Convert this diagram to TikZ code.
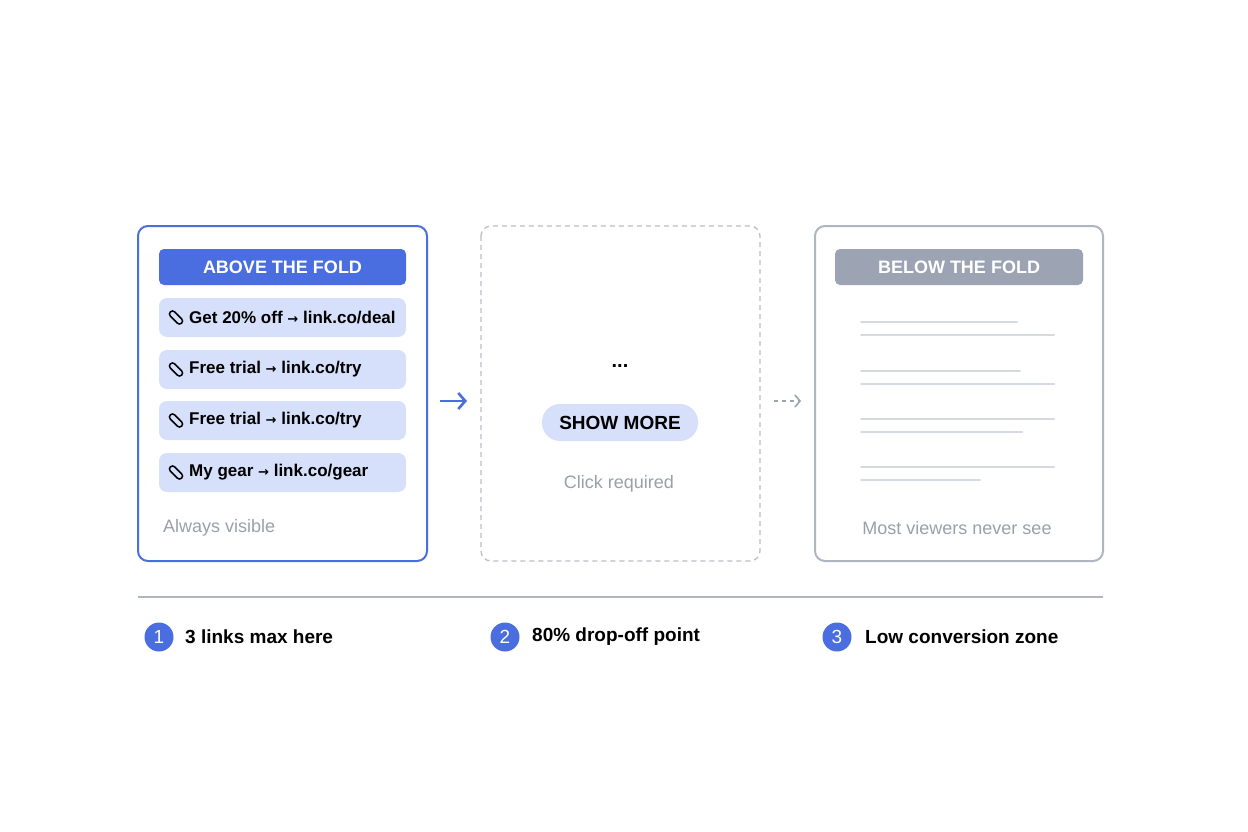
\documentclass[tikz,border=0pt]{standalone}
\usepackage{fontspec}
\setmainfont{Liberation Sans}
\newfontfamily\arrowfont{DejaVu Sans}
\usepackage{xcolor}
\usetikzlibrary{arrows.meta}
\usetikzlibrary{calc}
\definecolor{foldblue}{HTML}{4A6EE0}
\definecolor{pillblue}{HTML}{D6E0FA}
\definecolor{foldgray}{HTML}{9CA3B3}
\definecolor{linegray}{HTML}{D5D9E0}
\definecolor{textgray}{HTML}{9AA0AA}
\tikzset{
    panel/.style = {rounded corners=10pt, line width=2pt},
    header/.style = {rounded corners=5pt, text=white, font=\bfseries\fontsize{18}{20}\selectfont},
    pill/.style = {rounded corners=8pt, fill=pillblue},
    pilltext/.style = {anchor=west, font=\bfseries\fontsize{17}{19}\selectfont, inner sep=0pt},
    note/.style = {text=textgray, font=\fontsize{18}{20}\selectfont, inner sep=0pt},
    badge/.style = {circle, fill=foldblue, text=white, minimum size=29pt, inner sep=0pt, font=\fontsize{19}{21}\selectfont},
    steptext/.style = {anchor=west, inner sep=0pt, font=\bfseries\fontsize{19}{21}\selectfont},
    fakeline/.style = {linegray, line width=2pt, line cap=round}
}
\newcommand{\clipicon}[1]{%
    \draw[line width=1.5pt, rotate around={-45:#1}, rounded corners=3pt]
        ($#1+(-8pt,-3pt)$) rectangle ($#1+(8pt,3pt)$);}
\newcommand{\ra}{{\arrowfont\bfseries\fontsize{13}{15}\selectfont\char"2192}}
\begin{document}
\begin{tikzpicture}[x=1pt, y=-1pt]
    \useasboundingbox (0,0) rectangle (1248,832);
    \fill[white] (0,0) rectangle (1248,832);

    % left panel
    \draw[panel, foldblue] (138,226) rectangle (427,561);
    \fill[header, foldblue] (159,249) rectangle (406,285);
    \node[header] (above) at (282.5,267) {ABOVE THE FOLD};
    \foreach \y/\txt [count=\i] in {298/{Get 20\% off \ra{} link.co/deal},
                                    350/{Free trial \ra{} link.co/try},
                                    401/{Free trial \ra{} link.co/try},
                                    453/{My gear \ra{} link.co/gear}} {
        \fill[pill] (159,\y) rectangle (406,\y+39);
        \clipicon{(176,\y+19.5)}
        \node[pilltext] (link\i) at (189,\y+19.5) {\txt};
    }
    \node[note, anchor=west] (visible) at (163,528) {Always visible};

    % middle panel
    \draw[foldgray!70, line width=1.3pt, dash pattern=on 5pt off 4pt, rounded corners=10pt]
        (481,226) rectangle (760,561);
    \node[font=\bfseries\fontsize{20}{22}\selectfont] (dots) at (620,366) {...};
    \node[pill, fill=pillblue, rounded corners=18pt, minimum width=156pt, minimum height=37pt,
          font=\bfseries\fontsize{19}{21}\selectfont] (more) at (620,422.5) {SHOW MORE};
    \node[note] (click) at (619,484) {Click required};

    % right panel
    \draw[panel, foldgray!80] (815,226) rectangle (1103,561);
    \fill[header, foldgray] (835,249) rectangle (1083,285);
    \node[header] (below) at (959,267) {BELOW THE FOLD};
    \foreach \y/\a/\b in {322/1017/1054, 371/1020/1054, 419/1054/1022, 467/1054/980} {
        \draw[fakeline] (861,\y) -- (\a,\y);
        \draw[fakeline] (861,\y+12.5) -- (\b,\y+12.5);
    }
    \node[note] (never) at (957,528) {Most viewers never see};

    % arrows between panels
    \coordinate (a1) at (440,401);
    \coordinate (a2) at (467,401);
    \coordinate (b1) at (774,401);
    \coordinate (b2) at (801,401);
    \draw[foldblue, line width=2.6pt, -{Straight Barb[length=7pt,width=16pt]}] (a1) -- (a2);
    \draw[foldgray, line width=1.6pt, dash pattern=on 4pt off 4pt,
          -{Straight Barb[length=5pt,width=12pt]}] (b1) -- (b2);

    % bottom row
    \coordinate (rule l) at (138,597);
    \coordinate (rule r) at (1103,597);
    \draw[foldgray!80, line width=1.3pt] (rule l) -- (rule r);
    \node[badge] (n1) at (159,637) {1};
    \node[steptext] (s1) at (185,637) {3 links max here};
    \node[badge] (n2) at (505,637) {2};
    \node[steptext] (s2) at (532,637) {80\% drop-off point};
    \node[badge] (n3) at (837,637) {3};
    \node[steptext] (s3) at (865,637) {Low conversion zone};
\end{tikzpicture}
\end{document}
